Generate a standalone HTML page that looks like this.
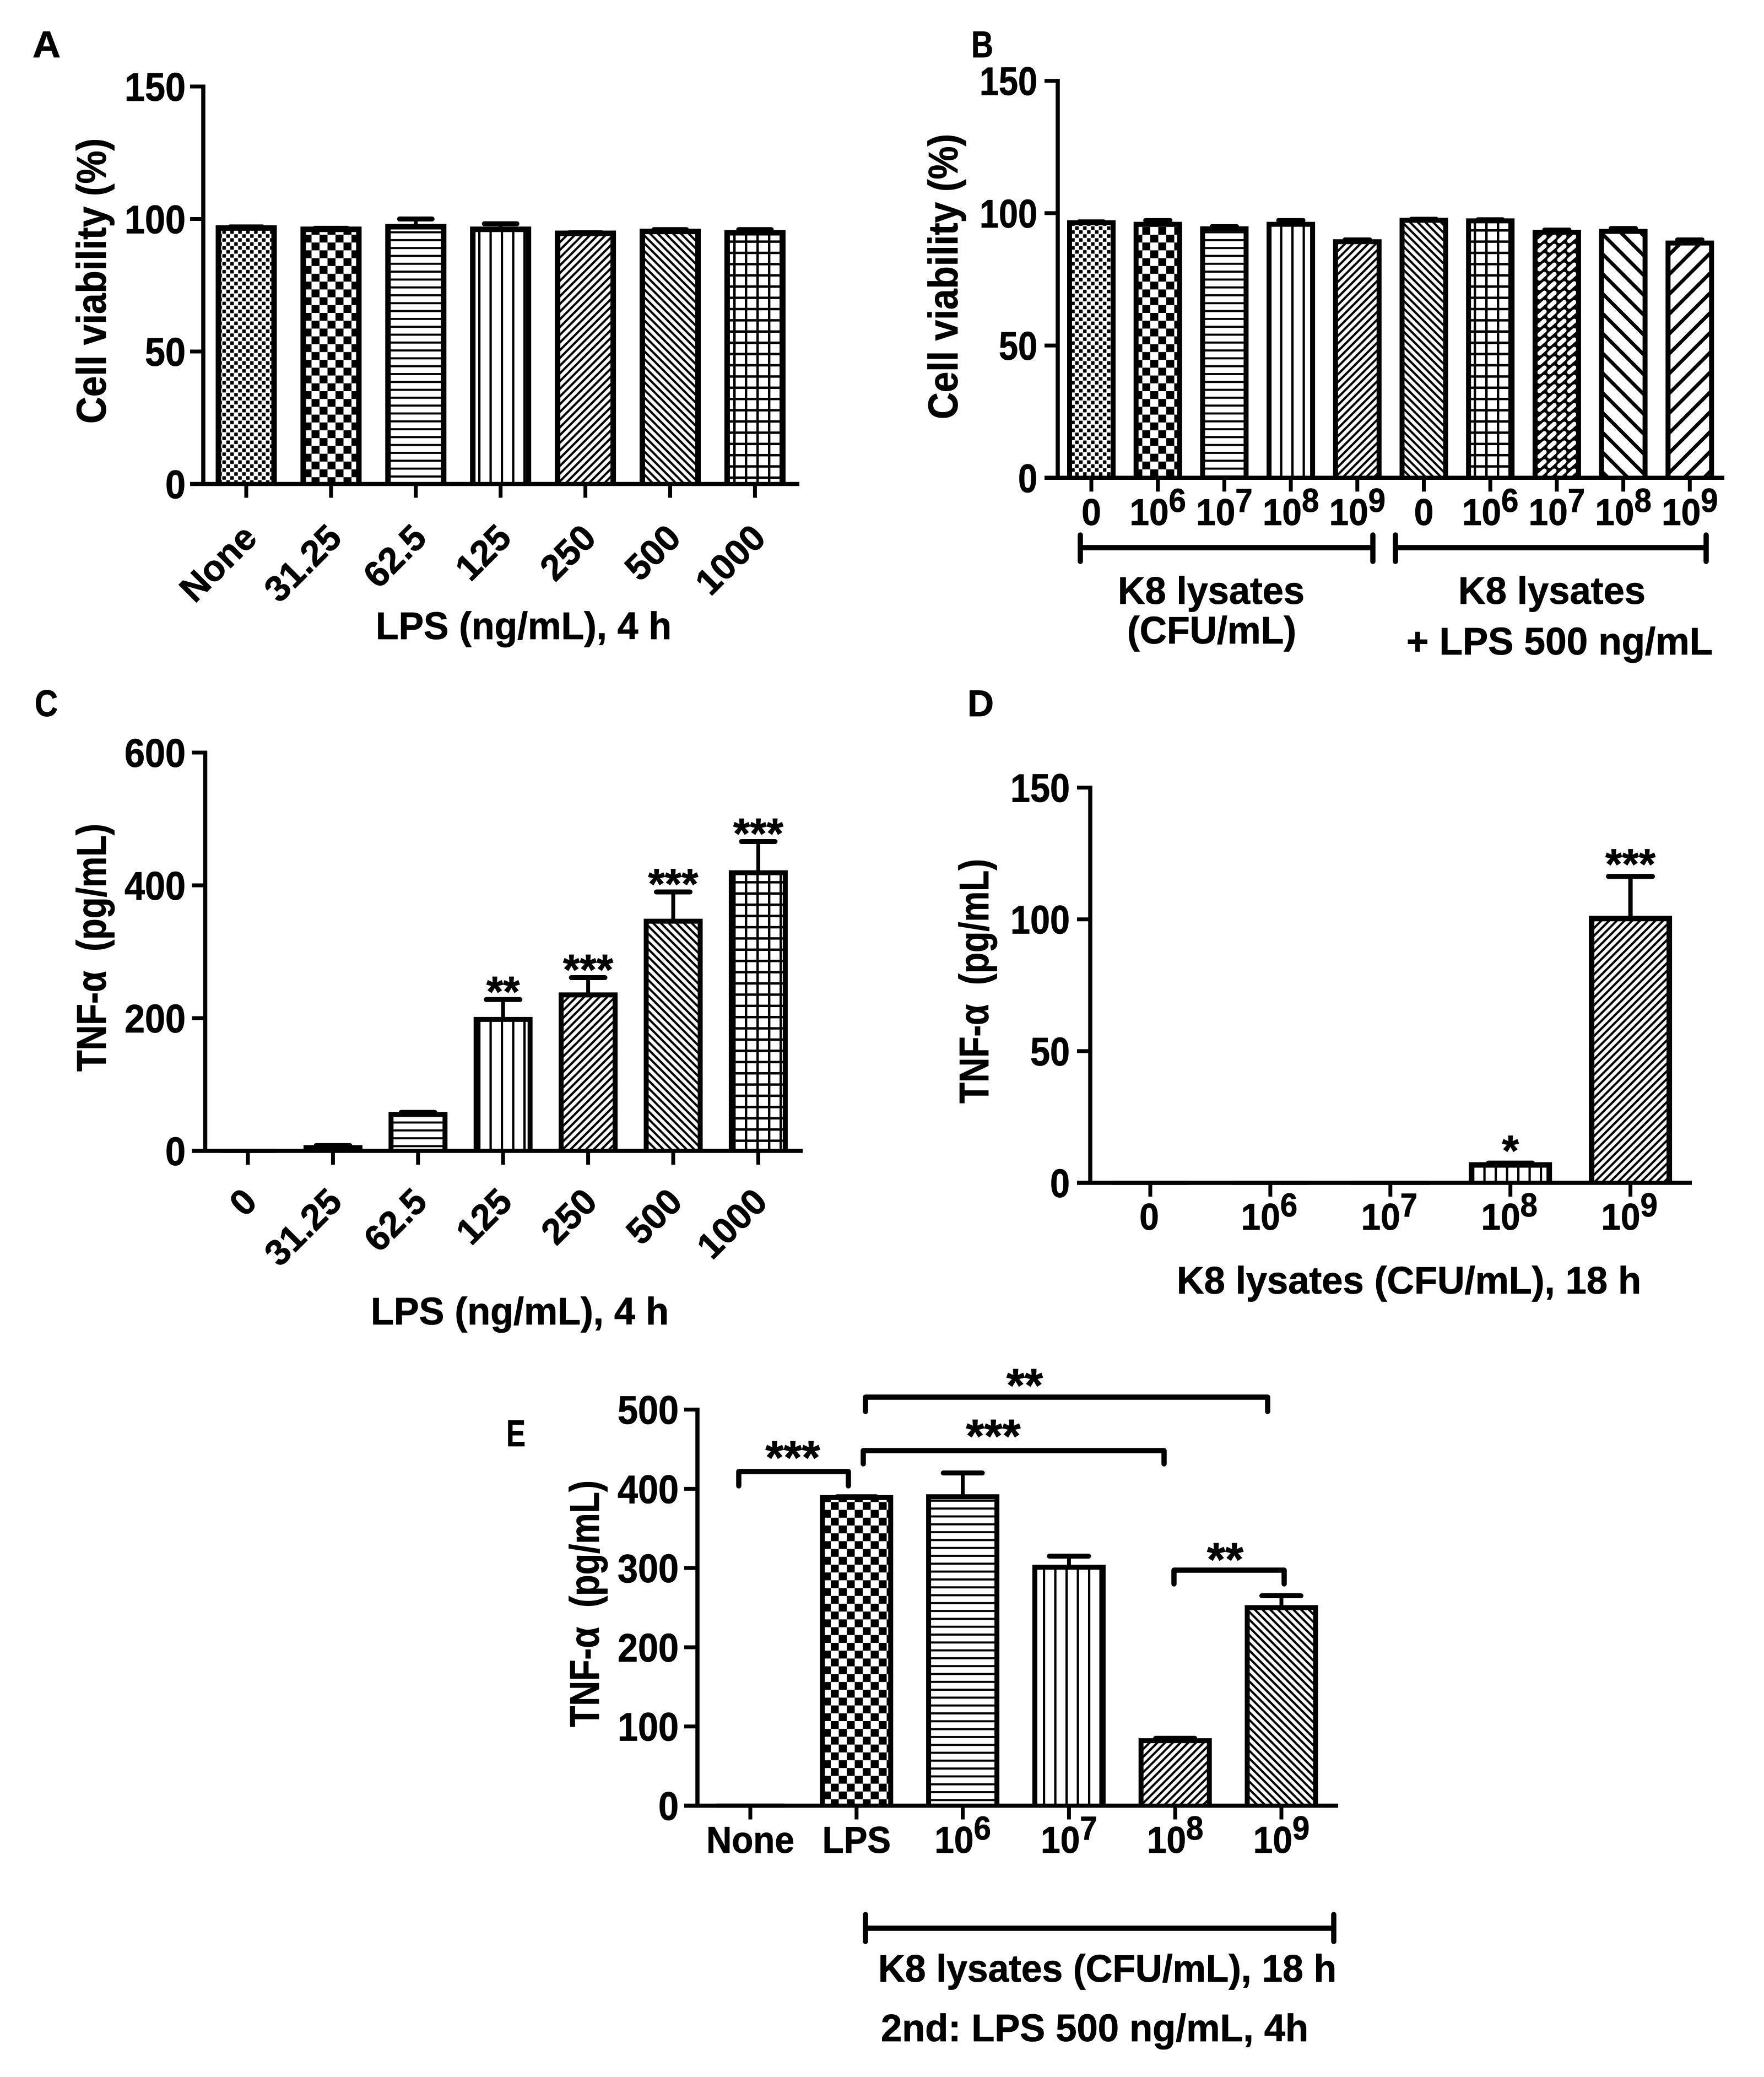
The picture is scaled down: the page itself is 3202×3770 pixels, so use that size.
<!DOCTYPE html>
<html lang="en">
<head>
<meta charset="utf-8">
<title>Cell viability and TNF-α panels</title>
<style>
html,body{margin:0;padding:0;background:#fff;}
svg{display:block;}
text{font-family:"Liberation Sans",sans-serif;font-weight:bold;fill:#000;white-space:pre;stroke:#000;stroke-width:0.8;}
.ttl{font-size:70px;}
.vttl{font-size:75px;}
.letter{font-size:68px;}
.br{fill:none;stroke:#000;stroke-width:9.5;stroke-linecap:round;stroke-linejoin:round;}
</style>
</head>
<body>
<svg id="fig" xmlns="http://www.w3.org/2000/svg" width="3202" height="3770" viewBox="0 0 3202 3770">
<defs>
<pattern id="p-dense" patternUnits="userSpaceOnUse" width="14.4" height="14.4"><rect width="14.4" height="14.4" fill="#fff"/><rect x="0.4" y="0.4" width="6.4" height="6.4" fill="#000"/><rect x="7.6" y="7.6" width="6.4" height="6.4" fill="#000"/></pattern>
<pattern id="p-check" patternUnits="userSpaceOnUse" width="29" height="28.4"><rect width="29" height="28.4" fill="#fff"/><rect width="14.5" height="14.2" fill="#000"/><rect x="14.5" y="14.2" width="14.5" height="14.2" fill="#000"/></pattern>
<pattern id="p-horiz" patternUnits="userSpaceOnUse" width="20" height="14.3"><rect width="20" height="14.3" fill="#fff"/><rect y="5" width="20" height="3.8" fill="#000"/></pattern>
<pattern id="p-vert" patternUnits="userSpaceOnUse" width="20.5" height="20"><rect width="20.5" height="20" fill="#fff"/><rect x="7" width="4.2" height="20" fill="#000"/></pattern>
<pattern id="p-up" patternUnits="userSpaceOnUse" width="14" height="14"><rect width="14" height="14" fill="#fff"/><path d="M-7,7L7,-7M0,14L14,0M7,21L21,7" stroke="#000" stroke-width="4"/></pattern>
<pattern id="p-down" patternUnits="userSpaceOnUse" width="14" height="14"><rect width="14" height="14" fill="#fff"/><path d="M-7,7L7,21M0,0L14,14M7,-7L21,7" stroke="#000" stroke-width="4"/></pattern>
<pattern id="p-grid" patternUnits="userSpaceOnUse" width="21" height="20.4"><rect width="21" height="20.4" fill="#fff"/><rect x="8" width="4.4" height="20.4" fill="#000"/><rect y="8" width="21" height="4.4" fill="#000"/></pattern>
<pattern id="p-weave" patternUnits="userSpaceOnUse" width="18" height="17"><rect width="18" height="17" fill="#000"/><path d="M4.5,12.5L13.5,4.5" stroke="#fff" stroke-width="8" stroke-linecap="round"/></pattern>
<pattern id="p-bigdown" patternUnits="userSpaceOnUse" width="36" height="36"><rect width="36" height="36" fill="#fff"/><path d="M-18,18L18,54M0,0L36,36M18,-18L54,18" stroke="#000" stroke-width="6.5"/></pattern>
<pattern id="p-bigup" patternUnits="userSpaceOnUse" width="36" height="36"><rect width="36" height="36" fill="#fff"/><path d="M-18,18L18,-18M0,36L36,0M18,54L54,18" stroke="#000" stroke-width="6.5"/></pattern>
</defs>

<text class="letter" x="59" y="104" textLength="51" lengthAdjust="spacingAndGlyphs">A</text>
<text class="letter" x="1763" y="104" textLength="40" lengthAdjust="spacingAndGlyphs">B</text>
<text class="letter" x="63" y="1300" textLength="42" lengthAdjust="spacingAndGlyphs">C</text>
<text class="letter" x="1756" y="1300" textLength="48" lengthAdjust="spacingAndGlyphs">D</text>
<text class="letter" x="919" y="2625" textLength="35" lengthAdjust="spacingAndGlyphs">E</text>

<text class="vttl" transform="translate(192,510) rotate(-90)" text-anchor="middle" textLength="518" lengthAdjust="spacingAndGlyphs">Cell viability (%)</text>
<text class="ttl" x="682" y="1160" textLength="537" lengthAdjust="spacingAndGlyphs">LPS (ng/mL), 4 h</text>

<text class="vttl" transform="translate(1738,502) rotate(-90)" text-anchor="middle" textLength="518" lengthAdjust="spacingAndGlyphs">Cell viability (%)</text>
<path class="br" d="M1961,971V1019M1961,994H2492M2492,971V1019"/>
<path class="br" d="M2533,971V1019M2533,994H3097M3097,971V1019"/>
<text class="ttl" x="2029" y="1096" textLength="339" lengthAdjust="spacingAndGlyphs">K8 lysates</text>
<text class="ttl" x="2046" y="1168" textLength="307" lengthAdjust="spacingAndGlyphs">(CFU/mL)</text>
<text class="ttl" x="2647" y="1096" textLength="340" lengthAdjust="spacingAndGlyphs">K8 lysates</text>
<text class="ttl" x="2553" y="1188" textLength="556" lengthAdjust="spacingAndGlyphs">+ LPS 500 ng/mL</text>

<text class="vttl" transform="translate(192,1720) rotate(-90)" text-anchor="middle" textLength="450" lengthAdjust="spacingAndGlyphs">TNF-α  (pg/mL)</text>
<text class="ttl" x="673" y="2404" textLength="541" lengthAdjust="spacingAndGlyphs">LPS (ng/mL), 4 h</text>

<text class="vttl" transform="translate(1794,1781) rotate(-90)" text-anchor="middle" textLength="444" lengthAdjust="spacingAndGlyphs">TNF-α  (pg/mL)</text>
<text class="ttl" x="2136" y="2348" textLength="843" lengthAdjust="spacingAndGlyphs">K8 lysates (CFU/mL), 18 h</text>

<text class="vttl" transform="translate(1087,2911) rotate(-90)" text-anchor="middle" textLength="448" lengthAdjust="spacingAndGlyphs">TNF-α  (pg/mL)</text>
<path class="br" d="M1571,2562V2536H2301V2562"/>
<path class="br" d="M1567,2657V2633H2113V2657"/>
<path class="br" d="M1341,2697V2671H1540V2697"/>
<path class="br" d="M2131,2875V2850H2331V2875"/>
<text x="1860" y="2544" text-anchor="middle" font-size="85">**</text>
<text x="1803" y="2636" text-anchor="middle" font-size="85">***</text>
<text x="1439" y="2675" text-anchor="middle" font-size="85">***</text>
<text x="2224" y="2860" text-anchor="middle" font-size="85">**</text>
<path class="br" d="M1571,3475V3524M1571,3500H2421M2421,3475V3524"/>
<text class="ttl" x="1594" y="3597" textLength="832" lengthAdjust="spacingAndGlyphs">K8 lysates (CFU/mL), 18 h</text>
<text class="ttl" x="1599" y="3705" textLength="776" lengthAdjust="spacingAndGlyphs">2nd: LPS 500 ng/mL, 4h</text>
</svg>

<script>
// Panel A
const categoriesA = ["None", "31.25", "62.5", "125", "250", "500", "1000"];
const valuesA = [96.6, 96.1, 97.1, 96.1, 94.6, 95.3, 94.8];
const errorTopsA = [97, 96.5, 100, 98.2, 94.8, 96, 96];
const yTicksA = [0, 50, 100, 150];
const patternsA = ["dense", "check", "horiz", "vert", "up", "down", "grid"];

// Panel B
const categoriesB = ["0", "10^6", "10^7", "10^8", "10^9", "0", "10^6", "10^7", "10^8", "10^9"];
const valuesB = [96.4, 95.8, 94.1, 95.8, 89.2, 97.3, 97.1, 92.8, 93.1, 88.7];
const errorTopsB = [96.8, 97.3, 95, 97.3, 90, 97.8, 97.6, 93.7, 94.3, 90];
const yTicksB = [0, 50, 100, 150];
const patternsB = ["dense", "check", "horiz", "vert", "up", "down", "grid", "weave", "bigdown", "bigup"];

// Panel C
const categoriesC = ["0", "31.25", "62.5", "125", "250", "500", "1000"];
const valuesC = [0, 5, 55, 198, 235, 346, 419];
const errorTopsC = [0, 8, 58, 228, 261, 390, 466];
const starsC = ["", "", "", "**", "***", "***", "***"];
const yTicksC = [0, 200, 400, 600];
const patternsC = ["dense", "check", "horiz", "vert", "up", "down", "grid"];

// Panel D
const categoriesD = ["0", "10^6", "10^7", "10^8", "10^9"];
const valuesD = [0, 0, 0, 6.8, 100.3];
const errorTopsD = [0, 0, 0, 7.5, 116.3];
const starsD = ["", "", "", "*", "***"];
const yTicksD = [0, 50, 100, 150];
const patternsD = ["dense", "check", "horiz", "vert", "up"];

// Panel E
const categoriesE = ["None", "LPS", "10^6", "10^7", "10^8", "10^9"];
const valuesE = [0, 389, 390, 301, 82, 250];
const errorTopsE = [0, 390, 420, 315, 85, 265];
const yTicksE = [0, 100, 200, 300, 400, 500];
const patternsE = ["dense", "check", "horiz", "vert", "up", "down"];

const NS = "http://www.w3.org/2000/svg";
const fig = document.getElementById("fig");

function add(tag, name, attrs, parent) {
  const el = document.createElementNS(NS, tag);
  Object.keys(attrs).forEach(function (k) { el.setAttribute(k, attrs[k]); });
  
  
  (parent || fig).appendChild(el);
  return el;
}

function drawPanel(c) {
  const g = add("g", "panel-" + c.id, {});
  const yScale = function (v) { return c.yZero - (v / c.yMax) * (c.yZero - c.yTop); };
  const xScale = function (i) { return c.xFirst + i * c.xStep; };

  // bars and error bars
  c.values.forEach(function (v, i) {
    const cx = xScale(i), half = (c.barW - c.stroke) / 2, yv = yScale(v), ye = yScale(c.errors[i]);
    if (c.errors[i] > v) {
      add("line", "panel-" + c.id + "-error-stem-" + i, { x1: cx, x2: cx, y1: yv, y2: ye, stroke: "#000", "stroke-width": c.stemW }, g);
      add("line", "panel-" + c.id + "-error-cap-" + i, { x1: cx - c.capW / 2, x2: cx + c.capW / 2, y1: ye, y2: ye, stroke: "#000", "stroke-width": c.capT, "stroke-linecap": "round" }, g);
    }
    add("path", "panel-" + c.id + "-bar-" + i, {
      d: "M" + (cx - half) + "," + c.yZero + "V" + yv + "H" + (cx + half) + "V" + c.yZero,
      fill: "url(#p-" + c.patterns[i] + ")", stroke: "#000", "stroke-width": v === 0 ? 7.5 : c.stroke
    }, g);
    if (c.stars && c.stars[i]) {
      const s = add("text", "panel-" + c.id + "-significance-" + i, { x: cx, y: ye + c.starDy, "text-anchor": "middle", "font-size": 78 }, g);
      s.textContent = c.stars[i];
    }
  });

  // y axis
  add("line", "panel-" + c.id + "-y-axis", { x1: c.axisX, x2: c.axisX, y1: c.yTop - 3.5, y2: c.yZero, stroke: "#000", "stroke-width": 7.5 }, g);
  c.yTicks.forEach(function (t) {
    const y = yScale(t), s = String(t);
    add("line", "panel-" + c.id + "-y-tick-" + t, { x1: c.axisX - 24, x2: c.axisX, y1: y, y2: y, stroke: "#000", "stroke-width": 7 }, g);
    const l = add("text", "panel-" + c.id + "-y-tick-label-" + t, {
      x: c.yLabelRight, y: y + 26, "text-anchor": "end", "font-size": 72,
      textLength: s.length * c.digitW, lengthAdjust: "spacingAndGlyphs"
    }, g);
    l.textContent = s;
  });

  // x axis
  add("line", "panel-" + c.id + "-x-axis", { x1: c.axisX - 24, x2: c.xEnd, y1: c.yZero, y2: c.yZero, stroke: "#000", "stroke-width": 7.5 }, g);
  c.categories.forEach(function (label, i) {
    const cx = xScale(i);
    add("line", "panel-" + c.id + "-x-tick-" + i, { x1: cx, x2: cx, y1: c.yZero, y2: c.yZero + 25, stroke: "#000", "stroke-width": 7 }, g);
    if (c.rotated) {
      const px = cx + c.rotDx, py = c.rotY;
      const t = add("text", "panel-" + c.id + "-x-tick-label-" + i, { transform: "translate(" + px + "," + py + ") rotate(-45)", "text-anchor": "end", "font-size": 66 }, g);
      t.textContent = label;
    } else {
      const t = add("text", "panel-" + c.id + "-x-tick-label-" + i, { transform: "translate(" + (cx + (c.labelDx || 0)) + "," + c.labelY + ") scale(0.94,1)", "text-anchor": "middle", "font-size": 68 }, g);
      const parts = label.split("^");
      t.appendChild(document.createTextNode(parts[0]));
      if (parts[1]) {
        const sup = document.createElementNS(NS, "tspan");
        sup.setAttribute("dy", "-24");
        sup.setAttribute("font-size", "60");
        sup.textContent = parts[1];
        t.appendChild(sup);
      }
    }
  });
}

drawPanel({ id: "a", categories: categoriesA, values: valuesA, errors: errorTopsA, patterns: patternsA, yTicks: yTicksA,
  yMax: 150, yTop: 157, yZero: 878.5, axisX: 369, xEnd: 1451, xFirst: 447, xStep: 153.9, barW: 111, stroke: 10, stemW: 7, capW: 59, capT: 9,
  yLabelRight: 337, digitW: 37, rotated: true, rotDx: 23, rotY: 980 });

drawPanel({ id: "b", categories: categoriesB, values: valuesB, errors: errorTopsB, patterns: patternsB, yTicks: yTicksB,
  yMax: 150, yTop: 146.7, yZero: 867.3, axisX: 1920, xEnd: 3130, xFirst: 1981, xStep: 120.7, barW: 88, stroke: 9, stemW: 6, capW: 45, capT: 8,
  yLabelRight: 1883, digitW: 35, labelY: 953 });

drawPanel({ id: "c", categories: categoriesC, values: valuesC, errors: errorTopsC, stars: starsC, starDy: 12, patterns: patternsC, yTicks: yTicksC,
  yMax: 600, yTop: 1366, yZero: 2089, axisX: 372.5, xEnd: 1457, xFirst: 450, xStep: 154.4, barW: 107, stroke: 9, stemW: 7, capW: 61, capT: 9,
  yLabelRight: 337, digitW: 37, rotated: true, rotDx: 20, rotY: 2185 });

drawPanel({ id: "d", categories: categoriesD, values: valuesD, errors: errorTopsD, stars: starsD, starDy: 4, patterns: patternsD, yTicks: yTicksD,
  yMax: 150, yTop: 1429.6, yZero: 2147, axisX: 1979, xEnd: 3071, xFirst: 2088, xStep: 217.9, barW: 151, stroke: 10, stemW: 8, capW: 80, capT: 9,
  yLabelRight: 1942, digitW: 36, labelY: 2232, labelDx: -2 });

drawPanel({ id: "e", categories: categoriesE, values: valuesE, errors: errorTopsE, patterns: patternsE, yTicks: yTicksE,
  yMax: 500, yTop: 2558.6, yZero: 3277.5, axisX: 1266, xEnd: 2429, xFirst: 1362, xStep: 192.8, barW: 133, stroke: 9, stemW: 7, capW: 71, capT: 9,
  yLabelRight: 1232, digitW: 37, labelY: 3363 });
</script>
</body>
</html>
